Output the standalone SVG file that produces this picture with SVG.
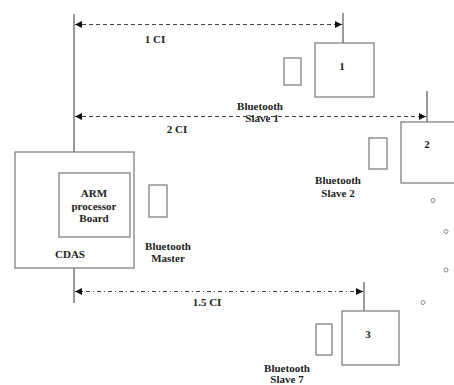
<svg xmlns="http://www.w3.org/2000/svg" width="454" height="385" viewBox="0 0 454 385">
<style>
.b{fill:#fff;stroke:#777;stroke-width:1.2}
.l{stroke:#777;stroke-width:1.5;fill:none}
.d{stroke:#444;stroke-width:1.2;fill:none;stroke-dasharray:4,3}
.dd{stroke:#444;stroke-width:1.2;fill:none;stroke-dasharray:4,3,1,3}
text{font-family:"Liberation Serif","Times New Roman",serif;font-weight:bold;font-size:11px;fill:#222;text-anchor:middle}
.c{fill:none;stroke:#888;stroke-width:1}
</style>
<defs>
<marker id="a" viewBox="0 0 10 10" refX="10" refY="5" markerWidth="7" markerHeight="7" orient="auto-start-reverse" markerUnits="userSpaceOnUse">
<path d="M0,0L10,5L0,10z" fill="#111"/>
</marker>
</defs>
<rect width="454" height="385" fill="#fff"/>
<g id="connectors">
<line class="l" x1="74" y1="14" x2="74" y2="152"/>
<line class="l" x1="74" y1="268" x2="74" y2="303"/>
<line class="l" x1="343" y1="13" x2="343" y2="43"/>
<line class="l" x1="427" y1="91" x2="427" y2="122"/>
<line class="l" x1="364" y1="282" x2="364" y2="311"/>
<line class="d" x1="75" y1="24.5" x2="342" y2="24.5" marker-start="url(#a)" marker-end="url(#a)"/>
<line class="d" x1="75" y1="116.5" x2="426" y2="116.5" marker-start="url(#a)" marker-end="url(#a)"/>
<line class="dd" x1="75" y1="291.5" x2="363" y2="291.5" marker-start="url(#a)" marker-end="url(#a)"/>
<text x="155" y="43">1 CI</text>
<text x="177" y="133">2 CI</text>
<text x="207" y="306">1.5 CI</text>
</g>
<g id="cdas">
<rect class="b" x="15" y="152" width="119" height="116"/>
<text x="70" y="258">CDAS</text>
</g>
<g id="arm">
<rect class="b" x="59" y="173" width="71" height="64"/>
<text x="94" y="197">ARM</text>
<text x="94" y="210">processor</text>
<text x="94" y="222">Board</text>
</g>
<g id="bt-master">
<rect class="b" x="149" y="185" width="18" height="32"/>
<text x="168" y="250">Bluetooth</text>
<text x="168" y="262">Master</text>
</g>
<g id="node1">
<rect class="b" x="315" y="43" width="59" height="54"/>
<text x="342" y="70">1</text>
</g>
<g id="bt-slave1">
<rect class="b" x="284" y="58" width="17" height="27"/>
<text x="260" y="110">Bluetooth</text>
<text x="262" y="122">Slave 1</text>
</g>
<g id="node2">
<rect class="b" x="401" y="122" width="60" height="61"/>
<text x="427" y="148">2</text>
</g>
<g id="bt-slave2">
<rect class="b" x="369" y="138" width="18" height="31"/>
<text x="338" y="184">Bluetooth</text>
<text x="338" y="197">Slave 2</text>
</g>
<g id="node3">
<rect class="b" x="342" y="311" width="57" height="54"/>
<text x="368" y="338">3</text>
</g>
<g id="bt-slave7">
<rect class="b" x="316" y="324" width="16" height="31"/>
<text x="287" y="372">Bluetooth</text>
<text x="287" y="383">Slave 7</text>
</g>
<g id="dots">
<circle class="c" cx="433" cy="200.5" r="2"/>
<circle class="c" cx="446" cy="231.5" r="2"/>
<circle class="c" cx="446" cy="270" r="2"/>
<circle class="c" cx="423" cy="302.5" r="2"/>
</g>
</svg>
